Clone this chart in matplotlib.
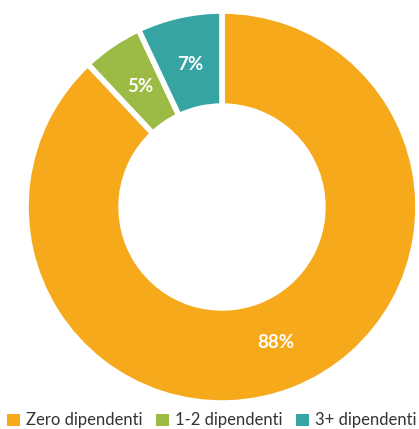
import matplotlib.pyplot as plt
from matplotlib.patches import Patch

labels = ["Zero dipendenti", "1-2 dipendenti", "3+ dipendenti"]
values = [88, 5, 7]
colors = ["#F6A91B", "#9BBB45", "#37A4A4"]

plt.rcParams['font.family'] = ['Lato', 'DejaVu Sans']

fig = plt.figure(figsize=(4.19, 4.29), dpi=100)
# ring centred at (222, 207) px with outer radius 196 px
cx, cy, r = 222, 207, 196
ax = fig.add_axes([(cx - r) / 419, (429 - cy - r) / 429, 2 * r / 419, 2 * r / 429])

wedges, texts, autotexts = ax.pie(
    values, colors=colors, startangle=90, counterclock=False,
    radius=1.0, autopct='%d%%', pctdistance=0.745,
    wedgeprops=dict(width=0.485, edgecolor='white', linewidth=4, joinstyle='round'),
    textprops=dict(color='white', fontsize=13.5, fontweight='bold'))
ax.set_xlim(-1, 1)
ax.set_ylim(-1, 1)
ax.set_aspect('equal')

handles = [Patch(facecolor=c, edgecolor='none') for c in colors]
fig.legend(handles, labels, loc='lower center', bbox_to_anchor=(0.505, -0.026),
           ncol=3, frameon=False, fontsize=12, handlelength=0.75, handleheight=0.75,
           handletextpad=0.35, columnspacing=0.85, borderpad=0.2, labelcolor='#333333')

fig.savefig("out.png", dpi=100)
